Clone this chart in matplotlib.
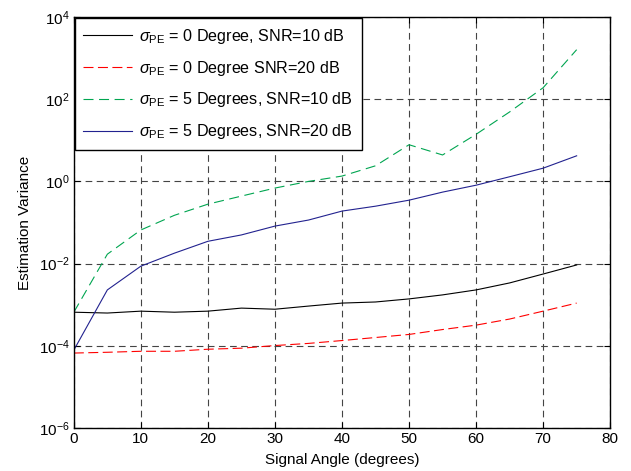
import numpy as np
import matplotlib
matplotlib.use("Agg")
import matplotlib.pyplot as plt
from matplotlib.ticker import LogLocator, NullLocator

plt.rcParams['font.family'] = ['Liberation Sans', 'DejaVu Sans']
plt.rcParams['mathtext.fontset'] = 'custom'
plt.rcParams['mathtext.rm'] = 'Liberation Sans'
plt.rcParams['mathtext.it'] = 'Liberation Sans:italic'
plt.rcParams['mathtext.sf'] = 'Liberation Sans'

# DATA
angle = [0, 5, 10, 15, 20, 25, 30, 35, 40, 45, 50, 55, 60, 65, 70, 75]

pe0_snr10 = [6.6e-4, 6.3e-4, 7.0e-4, 6.6e-4, 7.0e-4, 8.3e-4, 7.8e-4, 9.3e-4,
             1.1e-3, 1.17e-3, 1.39e-3, 1.74e-3, 2.3e-3, 3.4e-3, 5.6e-3, 9.3e-3]
pe0_snr20 = [6.7e-5, 7.0e-5, 7.4e-5, 7.4e-5, 8.3e-5, 8.8e-5, 1.02e-4, 1.15e-4,
             1.35e-4, 1.6e-4, 1.9e-4, 2.5e-4, 3.2e-4, 4.5e-4, 7.0e-4, 1.1e-3]
pe5_snr10 = [6.6e-4, 0.017, 0.066, 0.15, 0.28, 0.44, 0.69, 1.0,
             1.35, 2.4, 7.8, 4.4, 14, 49, 190, 1600]
pe5_snr20 = [7.9e-5, 2.3e-3, 8.7e-3, 0.018, 0.035, 0.050, 0.082, 0.115,
             0.19, 0.25, 0.35, 0.55, 0.81, 1.3, 2.1, 4.2]

labels = [r'$\sigma_{\mathrm{PE}}$ = 0 Degree, SNR=10 dB',
          r'$\sigma_{\mathrm{PE}}$ = 0 Degree SNR=20 dB',
          r'$\sigma_{\mathrm{PE}}$ = 5 Degrees, SNR=10 dB',
          r'$\sigma_{\mathrm{PE}}$ = 5 Degrees, SNR=20 dB']

fig = plt.figure(figsize=(6.31, 4.71), dpi=100)
ax = fig.add_axes([0.117, 0.091, 0.85, 0.873])

ax.semilogy(angle, pe0_snr10, color='black', lw=0.8, label=labels[0])
ax.semilogy(angle, pe0_snr20, color='#ff0000', lw=0.8, dashes=(9, 4), label=labels[1])
ax.semilogy(angle, pe5_snr10, color='#00a550', lw=0.8, dashes=(9, 5), label=labels[2])
ax.semilogy(angle, pe5_snr20, color='#22228f', lw=0.8, label=labels[3])

ax.set_xlim(0, 80)
ax.set_ylim(1e-6, 1e4)
ax.set_xticks(range(0, 81, 10))
ax.yaxis.set_major_locator(LogLocator(base=100))
ax.yaxis.set_minor_locator(NullLocator())
ax.tick_params(direction='in', top=True, right=True, labelsize=11, length=4, pad=3)
ax.grid(True, color='#444444', linestyle=(0, (6, 4)), lw=0.8)

for s in ax.spines.values():
    s.set_linewidth(1.0)

ax.set_xlabel('Signal Angle (degrees)', fontsize=11, labelpad=5)
ax.set_ylabel('Estimation Variance', fontsize=11, labelpad=5)

leg = ax.legend(loc='upper left', fontsize=11.6, handlelength=3.0, borderaxespad=0.05,
                fancybox=False, framealpha=1, edgecolor='black', labelspacing=0.8,
                borderpad=0.55, handletextpad=0.45)
leg.get_frame().set_linewidth(1.0)

fig.savefig('out.png', dpi=100)
